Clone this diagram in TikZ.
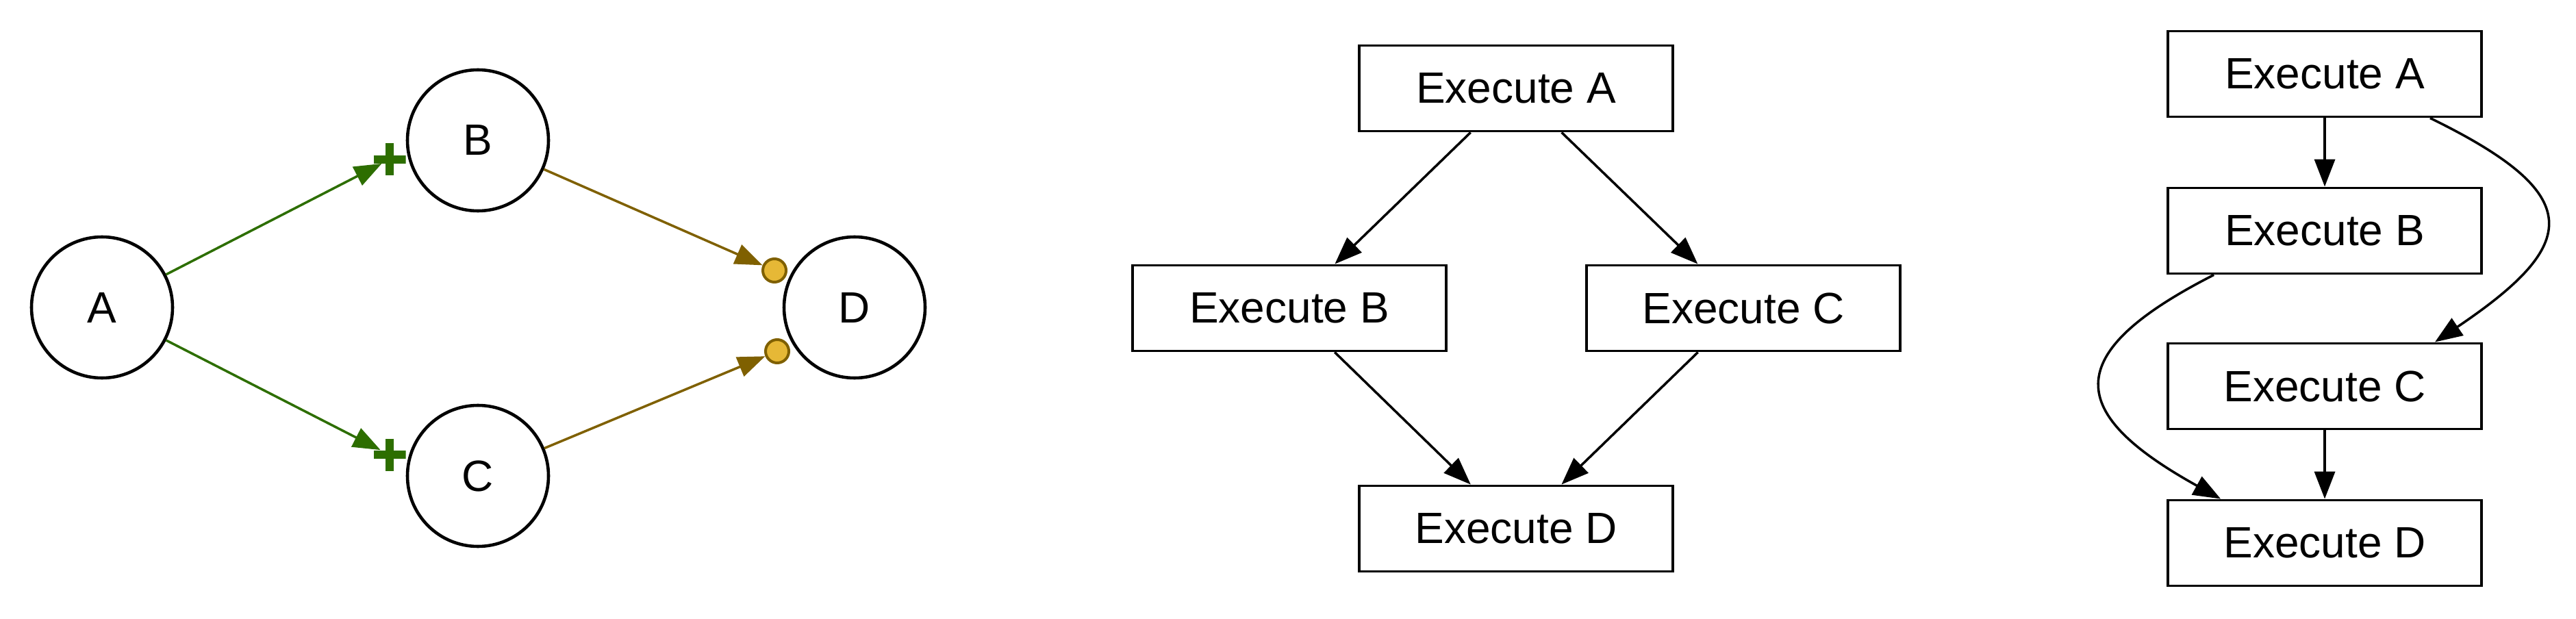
\documentclass[tikz,border=0pt]{standalone}
\usepackage{fontspec}
\setmainfont{Liberation Sans}
\usetikzlibrary{arrows.meta}
\definecolor{plusgreen}{HTML}{2D6E00}
\definecolor{dotbrown}{HTML}{7F6000}
\definecolor{dotyellow}{HTML}{E6B836}
\tikzset{
  state/.style={circle, draw, line width=1.3pt, minimum size=2.06cm, inner sep=0pt},
  task/.style={rectangle, draw, line width=1.1pt, minimum width=4.58cm, minimum height=1.25cm, inner sep=0pt},
  flow/.style={-{Triangle[length=0.4cm,width=0.3cm]}, line width=1pt},
  plusmark/.style={minimum size=0.47cm, inner sep=0pt,
    path picture={\draw[plusgreen, line width=0.12cm]
      (path picture bounding box.north) -- (path picture bounding box.south)
      (path picture bounding box.west) -- (path picture bounding box.east);}},
  dotmark/.style={circle, draw=dotbrown, fill=dotyellow, line width=0.04cm, minimum size=0.34cm, inner sep=0pt},
}
\begin{document}
\begin{tikzpicture}[font=\fontsize{18.2}{22}\selectfont]
            \useasboundingbox (0,0) rectangle (37.62,-9.04);

            \node[state] (A) at (1.49,-4.49) {A};
            \node[state] (B) at (6.98,-2.05) {B};
            \node[state] (C) at (6.98,-6.95) {C};
            \node[state] (D) at (12.48,-4.49) {D};
            \node[plusmark] (pB) at (5.69,-2.33) {};
            \node[plusmark] (pC) at (5.69,-6.64) {};
            \node[dotmark] (dB) at (11.31,-3.95) {};
            \node[dotmark] (dC) at (11.35,-5.13) {};
            \draw[flow, plusgreen, shorten >=0.13cm] (A) -- (pB.center);
            \draw[flow, plusgreen, shorten >=0.15cm] (A) -- (pC.center);
            \draw[flow, dotbrown] (B) -- (dB);
            \draw[flow, dotbrown] (C) -- (dC);

            \node[task] (mA) at (22.14,-1.29) {Execute A};
            \node[task] (mB) at (18.83,-4.50) {Execute B};
            \node[task] (mC) at (25.46,-4.50) {Execute C};
            \node[task] (mD) at (22.14,-7.72) {Execute D};
            \draw[flow] (mA) -- (mB);
            \draw[flow] (mA) -- (mC);
            \draw[flow] (mB) -- (mD);
            \draw[flow] (mC) -- (mD);

            \node[task] (rA) at (33.95,-1.08) {Execute A};
            \node[task] (rB) at (33.95,-3.37) {Execute B};
            \node[task] (rC) at (33.95,-5.64) {Execute C};
            \node[task] (rD) at (33.95,-7.93) {Execute D};
            \draw[flow] (rA) -- (rB);
            \draw[flow] (rC) -- (rD);
            \draw[flow] ([xshift=-7.7mm]rA.south east) to[out=-26, in=34, looseness=2] ([xshift=-7mm]rC.north east);
            \draw[flow] ([xshift=6.9mm]rB.south west) to[out=207, in=151, looseness=2] ([xshift=7.9mm]rD.north west);
        \end{tikzpicture}
\end{document}
